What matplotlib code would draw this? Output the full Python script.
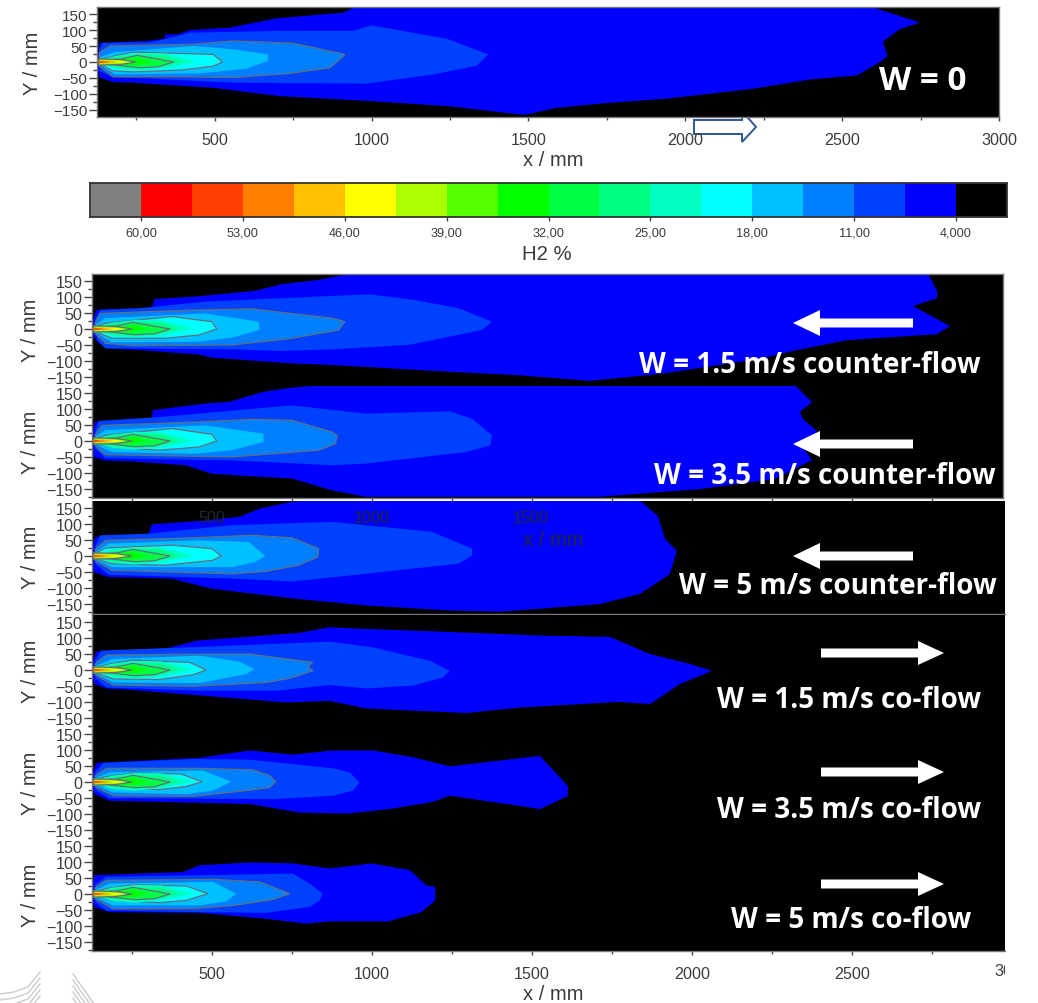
import numpy as np
import matplotlib
matplotlib.use('Agg')
import matplotlib.pyplot as plt
from matplotlib.colors import ListedColormap, BoundaryNorm
from matplotlib.patches import FancyArrow, Polygon
from matplotlib.ticker import MultipleLocator
from matplotlib.transforms import Bbox

plt.rcParams['font.family'] = ['Liberation Sans', 'DejaVu Sans']

W, H = 1038, 1004
TEXT = '#3c3c3c'

# colour scale, H2 %
bar_colors = ['#808080', '#ff0000', '#ff4000', '#ff8000', '#ffc000', '#ffff00', '#aaff00', '#55ff00',
              '#00ff00', '#00ff40', '#00ff80', '#00ffc0', '#00ffff', '#00c0ff', '#0080ff', '#0040ff',
              '#0000ff', '#000000']
bar_edges = [63.5, 60, 56.5, 53, 49.5, 46, 42.5, 39, 35.5, 32, 28.5, 25, 21.5, 18, 14.5, 11, 7.5, 4, 0.5]
bar_ticks = [60, 53, 46, 39, 32, 25, 18, 11, 4]
bar_labels = ['60,00', '53,00', '46,00', '39,00', '32,00', '25,00', '18,00', '11,00', '4,000']

# filled bands from the outside in: 4, 7.5, 11, 14.5, 18 % (x mm, y mm)
w0_bands = [
    [(125, 13), (130, 35), (133, 60), (282, 66), (340, 73), (342, 87), (383, 87), (420, 100), (548, 108),
     (697, 137), (910, 155), (953, 175), (2588, 175), (2747, 124), (2684, 103), (2630, 64), (2645, 19),
     (2626, 3), (2578, -25), (2547, -42), (2397, -55), (2216, -84), (1941, -115), (1737, -130), (1590, -144),
     (1494, -165), (1474, -165), (1250, -139), (1000, -123), (707, -107), (495, -81), (240, -65), (176, -63),
     (133, -49), (125, -13)],
    [(133, 40), (143, 60), (300, 62), (420, 92), (718, 98), (941, 98), (1000, 115), (1240, 73), (1372, 24),
     (1345, -2), (1335, -12), (1197, -39), (984, -68), (559, -65), (292, -52), (176, -49), (133, -28)],
    [(133, 30), (167, 50), (431, 56), (559, 66), (750, 59), (915, 24), (899, 8), (867, -18), (739, -36),
     (559, -49), (410, -46), (176, -46), (133, -13)],
    [(135, 15), (180, 31), (431, 50), (559, 40), (670, 24), (670, 3), (601, -21), (452, -36), (182, -39),
     (135, -10)],
    [(135, 8), (182, 19), (240, 31), (495, 24), (525, 0), (495, -13), (399, -25), (240, -31), (176, -28),
     (135, -8)],
]
cf15_bands = [
    [(125, 20), (130, 34), (139, 60), (312, 67), (320, 94), (448, 102), (635, 120), (719, 141), (833, 154),
     (937, 175), (2737, 175), (2766, 119), (2766, 97), (2691, 72), (2806, 9), (2766, -16), (2484, -35),
     (2315, -69), (2212, -94), (1900, -141), (1681, -163), (1458, -145), (1240, -134), (875, -113), (750, -108),
     (500, -90), (458, -80), (271, -66), (177, -61), (146, -45), (130, -24), (125, -20)],
    [(135, 30), (151, 60), (271, 65), (479, 86), (771, 99), (990, 109), (1135, 91), (1271, 65), (1375, 23),
     (1344, -3), (1115, -50), (875, -64), (719, -69), (563, -64), (250, -61), (167, -61), (141, -35)],
    [(135, 20), (151, 49), (458, 60), (625, 63), (875, 34), (915, 23), (896, -3), (739, -31), (563, -50),
     (250, -52), (167, -45), (135, -15)],
    [(135, 12), (167, 34), (479, 49), (646, 23), (648, -3), (563, -27), (458, -40), (187, -42), (135, -10)],
    [(135, 8), (167, 18), (375, 39), (500, 23), (515, 0), (458, -19), (354, -29), (187, -29), (135, -8)],
]
cf35_bands = [
    [(125, 20), (135, 60), (312, 70), (315, 97), (482, 118), (554, 123), (659, 154), (743, 167), (835, 175),
     (2322, 175), (2375, 122), (2337, 91), (2347, 69), (2391, 31), (2347, -20), (2375, -60),
     (2259, -119), (2025, -151), (1712, -175), (979, -175), (875, -155), (750, -118), (500, -103), (417, -76),
     (250, -64), (167, -61), (130, -50), (125, -20)],
    [(135, 30), (146, 63), (333, 75), (750, 112), (979, 86), (1243, 93), (1313, 70), (1375, 18), (1370, -14),
     (1292, -35), (979, -71), (875, -76), (563, -61), (167, -54), (135, -25)],
    [(135, 20), (156, 49), (458, 60), (625, 68), (750, 65), (875, 28), (891, 18), (886, -8), (833, -29),
     (563, -50), (167, -43), (135, -15)],
    [(135, 12), (167, 34), (479, 49), (661, 23), (661, -3), (563, -29), (449, -40), (187, -35), (135, -10)],
    [(135, 8), (167, 18), (375, 39), (500, 21), (515, 0), (458, -19), (333, -29), (187, -19), (135, -8)],
]
cf5_bands = [
    [(125, 20), (135, 60), (302, 70), (312, 99), (482, 112), (586, 123), (649, 149), (750, 170), (802, 175),
     (1837, 175), (1894, 125), (1916, 53), (1953, 16), (1931, -57), (1837, -119), (1712, -151), (1400, -175),
     (1240, -171), (979, -155), (760, -134), (500, -103), (375, -71), (177, -66), (130, -50), (125, -20)],
    [(135, 30), (151, 65), (302, 70), (565, 97), (875, 107), (1187, 76), (1313, 23), (1313, 2), (1271, -24),
     (979, -56), (750, -80), (563, -71), (177, -59), (135, -25)],
    [(135, 20), (167, 49), (437, 57), (625, 65), (750, 57), (833, 23), (831, -3), (770, -29), (670, -48),
     (563, -56), (187, -45), (135, -15)],
    [(135, 12), (177, 39), (458, 49), (615, 44), (667, 0), (635, -19), (563, -35), (187, -35), (135, -10)],
    [(135, 8), (167, 25), (375, 34), (500, 23), (529, 0), (500, -14), (354, -29), (187, -24), (135, -8)],
]
co15_bands = [
    [(125, 20), (139, 58), (357, 68), (451, 92), (774, 117), (868, 134), (982, 129), (1253, 119), (1531, 108),
     (1744, 104), (1869, 50), (1994, 19), (2062, -3), (1962, -44), (1869, -107), (1775, -100), (1461, -118),
     (1295, -135), (982, -121), (868, -97), (732, -102), (503, -83), (253, -63), (170, -58), (133, -44), (125, -20)],
    [(135, 30), (154, 61), (420, 71), (868, 89), (1003, 71), (1180, 29), (1243, -2), (1222, -23), (1128, -49),
     (982, -58), (868, -47), (701, -65), (461, -65), (170, -55), (135, -25)],
    [(135, 20), (170, 47), (441, 50), (618, 50), (814, 24), (800, 10), (816, -2), (743, -26), (670, -39),
     (441, -51), (191, -47), (135, -15)],
    [(135, 12), (191, 35), (461, 45), (586, 26), (633, 3), (607, -13), (461, -41), (191, -39), (135, -10)],
    [(135, 8), (180, 19), (253, 31), (430, 24), (482, 0), (441, -15), (336, -30), (191, -28), (135, -8)],
]
co35_bands = [
    [(125, 20), (139, 60), (461, 76), (618, 99), (753, 86), (878, 99), (1003, 99), (1128, 78), (1243, 49),
     (1525, 82), (1612, -13), (1612, -44), (1525, -85), (1461, -75), (1243, -43), (1191, -62), (1055, -85),
     (920, -99), (774, -96), (618, -69), (409, -64), (180, -59), (133, -38), (125, -20)],
    [(135, 30), (159, 60), (441, 72), (618, 70), (878, 43), (930, 30), (961, -1), (941, -27), (878, -43),
     (691, -54), (441, -52), (180, -51), (135, -25)],
    [(135, 20), (170, 43), (461, 43), (628, 38), (680, 20), (699, 1), (680, -17), (607, -27), (441, -45),
     (191, -43), (135, -15)],
    [(135, 12), (180, 30), (472, 36), (560, 1), (503, -27), (420, -38), (191, -33), (135, -10)],
    [(135, 8), (170, 17), (253, 28), (404, 25), (469, 1), (420, -14), (336, -24), (191, -17), (135, -8)],
]
co5_bands = [
    [(125, 20), (133, 59), (409, 69), (461, 90), (618, 99), (753, 96), (868, 80), (998, 96), (1118, 75),
     (1170, 27), (1198, 22), (1198, -20), (1154, -57), (1050, -86), (868, -86), (795, -93), (670, -78),
     (461, -59), (180, -57), (133, -41), (125, -20)],
    [(135, 30), (170, 54), (753, 64), (805, 33), (845, 1), (837, -20), (805, -41), (670, -59), (461, -57),
     (170, -52), (135, -25)],
    [(135, 20), (170, 43), (503, 46), (649, 38), (743, 1), (691, -17), (566, -36), (441, -46), (191, -46),
     (135, -15)],
    [(135, 12), (180, 33), (503, 38), (576, 1), (545, -23), (461, -36), (191, -36), (135, -10)],
    [(135, 8), (170, 17), (253, 29), (420, 25), (487, 1), (420, -20), (336, -27), (191, -20), (135, -8)],
]

# jet core, about the same in all panels: 21.5 % and up
core_bands = [
    [(135, 6), (190, 20), (260, 28), (340, 27), (420, 8), (437, 0), (340, -20), (260, -27), (190, -22), (135, -6)],
    [(135, 5), (200, 18), (260, 22), (340, 20), (395, 0), (330, -15), (260, -21), (200, -18), (135, -5)],
    [(130, 4), (205, 10), (253, 21), (369, 0), (320, -15), (260, -18), (190, -10), (130, -4)],
    [(130, 10), (220, 8), (250, 12), (300, 0), (250, -9), (220, -8), (130, -10)],
    [(130, 10), (200, 8), (250, 0), (200, -8), (130, -10)],
    [(135, 6), (190, 5), (235, 0), (190, -5), (135, -6)],
    [(165, 4), (205, 3), (225, 0), (205, -3), (165, -4)],
    [(140, 5), (170, 4), (195, 0), (170, -4), (140, -5)],
    [(128, 4), (155, 3), (170, 0), (155, -3), (128, -4)],
    [(128, 2), (140, 2), (150, 0), (140, -2), (128, -2)],
]

band_colors = ['#0000ff', '#0040ff', '#0080ff', '#00c0ff', '#00ffff', '#00ffc0', '#00ff80', '#00ff40',
               '#00ff00', '#55ff00', '#aaff00', '#ffff00', '#ffc000', '#ff8000', '#ff4000']
outlined = [2, 4, 7, 9]

x_ticks = [500, 1000, 1500, 2000, 2500]
y_ticks = [-150, -100, -50, 0, 50, 100, 150]


def px_axes(fig, left, top, right, bottom, zorder=1):
    return fig.add_axes([left / W, 1 - bottom / H, (right - left) / W, (bottom - top) / H], zorder=zorder)


def draw_panel(fig, bands, box, center, xlim, spines=('left',), show_x=False, show_labels=False, ysize=11.6, ylab_x=30):
    left, top, right, bottom = box
    ax = px_axes(fig, left, top, right, bottom)
    ax.set_facecolor('black')
    ax.set_xlim(*xlim)
    ax.set_ylim((center - bottom) * 3.14, (center - top) * 3.14)
    for i, pts in enumerate(bands + core_bands):
        edge = '#5f7080' if i in outlined else 'none'
        ax.add_patch(Polygon(pts, closed=True, facecolor=band_colors[i], edgecolor=edge, linewidth=0.9))
    ax.set_yticks(y_ticks)
    ax.yaxis.set_minor_locator(MultipleLocator(25))
    ax.tick_params(axis='y', which='major', length=6, width=1, color='#444444', labelsize=ysize,
                   labelcolor=TEXT, pad=1)
    ax.tick_params(axis='y', which='minor', length=3, width=1, color='#444444')
    if show_x:
        ax.set_xticks(x_ticks + ([3000] if xlim[1] >= 3000 else []))
        ax.xaxis.set_minor_locator(MultipleLocator(250))
        ax.tick_params(axis='x', which='major', length=3, width=1, color='#444444',
                       labelsize=11.6, labelcolor=TEXT, pad=8, labelbottom=show_labels)
        ax.tick_params(axis='x', which='minor', length=2, width=1, color='#444444')
    else:
        ax.set_xticks([])
    for name, s in ax.spines.items():
        s.set_color('#777777')
        s.set_linewidth(1)
        s.set_visible(name in spines)
    fig.text(ylab_x / W, 1 - center / H, 'Y / mm', rotation=90, ha='center', va='center', fontsize=14.5, color=TEXT)
    return ax


fig = plt.figure(figsize=(W / 100, H / 100), dpi=100, facecolor='white')

# overlay below the panels, the outlined arrow is partly hidden by the top panel
under = fig.add_axes([0, 0, 1, 1], zorder=0)
under.set_xlim(0, W)
under.set_ylim(H, 0)
under.axis('off')
under.add_patch(Polygon([(694, 121), (742, 121), (742, 112), (756, 128), (742, 143), (742, 135), (694, 135)],
                        closed=True, facecolor='none', edgecolor='#2f5597', linewidth=1.4))

# scale of the lower panels: 3.125 mm per pixel from x = 125 at pixel 92
lim = lambda right: (125, 125 + (right - 92) * 3.125)

draw_panel(fig, w0_bands, (97, 8, 999, 118), 63, (125, 3000), spines=('left', 'top', 'right', 'bottom'),
           show_x=True, show_labels=True, ysize=11, ylab_x=33)
draw_panel(fig, cf15_bands, (92, 275, 1003, 387), 330, lim(1003), spines=('left', 'top', 'right'))
draw_panel(fig, cf35_bands, (92, 387, 1003, 499), 442, lim(1003), spines=('left', 'right', 'bottom'), show_x=True)
draw_panel(fig, cf5_bands, (92, 502, 1005, 615), 557, lim(1005), spines=('left', 'bottom'), show_x=True)
draw_panel(fig, co15_bands, (92, 616, 1005, 727), 671, lim(1005))
draw_panel(fig, co35_bands, (92, 727, 1005, 839), 783, lim(1005))
draw_panel(fig, co5_bands, (92, 839, 1005, 952), 895, lim(1005), spines=('left', 'bottom'), show_x=True, show_labels=True)

# colour bar
cax = px_axes(fig, 90, 184, 1007, 218)
cmap = ListedColormap(bar_colors[::-1])
norm = BoundaryNorm(bar_edges[::-1], cmap.N)
mids = (np.array(bar_edges[:-1]) + np.array(bar_edges[1:])) / 2
cax.pcolormesh(bar_edges, [0, 1], mids[np.newaxis, :], cmap=cmap, norm=norm)
cax.set_xlim(bar_edges[0], bar_edges[-1])
cax.set_yticks([])
cax.set_xticks(bar_ticks)
cax.set_xticklabels(bar_labels)
cax.tick_params(axis='x', length=3, width=1, color='#444444', labelsize=9.2, labelcolor=TEXT, pad=4)
for s in cax.spines.values():
    s.set_linewidth(1.3)
    s.set_color('#333333')

# everything drawn on top in pixel coordinates
over = fig.add_axes([0, 0, 1, 1], zorder=10)
over.set_xlim(0, W)
over.set_ylim(H, 0)
over.axis('off')
over.patch.set_alpha(0)

over.text(547, 255, 'H2 %', ha='center', va='center', fontsize=14.7, color=TEXT)
over.text(553, 160, 'x / mm', ha='center', va='center', fontsize=14.5, color=TEXT)
over.text(553, 995, 'x / mm', ha='center', va='center', fontsize=14.5, color=TEXT)
over.text(553, 541, 'x / mm', ha='center', va='center', fontsize=14.5, color='#202830')
over.text(212, 519, '500', ha='center', va='center', fontsize=11.6, color='#202830')
over.text(372, 519, '1000', ha='center', va='center', fontsize=11.6, color='#202830')
over.text(531, 519, '1500', ha='center', va='center', fontsize=11.6, color='#202830')
cut = over.text(1012, 972, '3000', ha='center', va='center', fontsize=11.6, color=TEXT)
cut.set_clip_box(Bbox([[0, 0], [1005, H]]))
cut.set_clip_on(True)

labels = [('W = 0', 923, 82, 24), ('W = 1.5 m/s counter-flow', 810, 366, 20),
          ('W = 3.5 m/s counter-flow', 825, 477, 20), ('W = 5 m/s counter-flow', 838, 587, 20),
          ('W = 1.5 m/s co-flow', 849, 701, 20), ('W = 3.5 m/s co-flow', 849, 811, 20),
          ('W = 5 m/s co-flow', 851, 921, 20)]
for txt, x, y, size in labels:
    over.text(x, y, txt, ha='center', va='center', fontsize=size, color='white', family='Open Sans', weight='bold')

for y in [324, 445, 557]:
    over.add_patch(FancyArrow(913, y, -120, 0, width=9, head_width=26, head_length=27,
                              length_includes_head=True, facecolor='white', edgecolor='none'))
for y in [654, 773, 885]:
    over.add_patch(FancyArrow(821, y, 123, 0, width=9, head_width=24, head_length=26,
                              length_includes_head=True, facecolor='white', edgecolor='none'))

# faint slide decoration in the corner
for k in range(5):
    yo = k * 6
    over.plot([0, 14, 28, 40], [995 + yo, 993 + yo, 988 + yo, 973 + yo], color='#cfcfcf', lw=1.1, clip_on=True)
    over.plot([73, 73 + (1004 - 975 - yo) * 0.7], [975 + yo, 1004], color='#cfcfcf', lw=1.1)

fig.savefig('out.png', dpi=100, facecolor='white')
